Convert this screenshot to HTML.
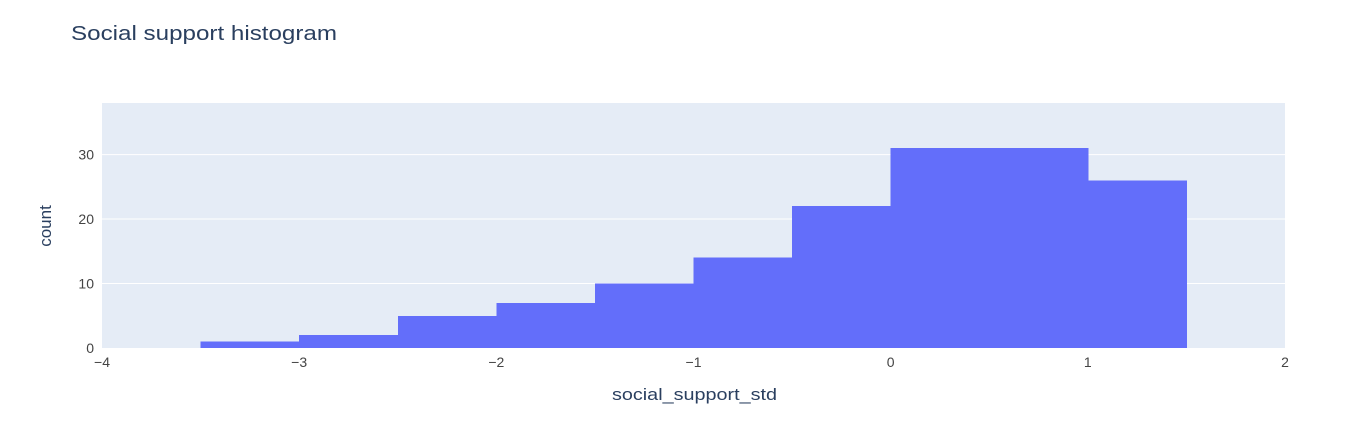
<!DOCTYPE html>
<html><head><meta charset="utf-8"><style>
body{margin:0;background:#fff;font-family:"Liberation Sans",Arial,sans-serif}
svg text{font-family:"Liberation Sans",Arial,sans-serif}
</style></head><body>
<svg id="chart" width="1345" height="422">
<rect width="1345" height="422" fill="#fff"/>
<text x="71" y="40" font-size="20" fill="#2a3f5f" textLength="266" lengthAdjust="spacingAndGlyphs">Social support histogram</text>
<rect x="102" y="103" width="1183" height="245" fill="#e5ecf6"/>
<g id="grid"></g><g id="bars" shape-rendering="crispEdges"></g><g id="ticks"></g>
<text x="612" y="400" font-size="17" fill="#2a3f5f" textLength="165" lengthAdjust="spacingAndGlyphs">social_support_std</text>
<text transform="translate(51,226) rotate(-90)" font-size="17" fill="#2a3f5f" text-anchor="middle">count</text>
</svg>
<script>
const binStarts=[-3.5,-3,-2.5,-2,-1.5,-1,-0.5,0,0.5,1];
const binWidth=0.5;
const counts=[1,2,5,7,10,14,22,31,31,26];
const xTicks=[-4,-3,-2,-1,0,1,2];
const yTicks=[0,10,20,30];
const xMin=-4,xMax=2,yMin=0,yMax=38;
const L=102,R=1285,T=103,B=348;
const sx=v=>L+(v-xMin)/(xMax-xMin)*(R-L);
const sy=v=>B-(v-yMin)/(yMax-yMin)*(B-T);
const NS="http://www.w3.org/2000/svg";
const grid=document.getElementById('grid'),bars=document.getElementById('bars'),ticks=document.getElementById('ticks');
yTicks.forEach(t=>{
 if(t>0){const l=document.createElementNS(NS,'line');
 l.setAttribute('x1',L);l.setAttribute('x2',R);l.setAttribute('y1',sy(t));l.setAttribute('y2',sy(t));
 l.setAttribute('stroke','#fff');l.setAttribute('stroke-width','1');
 
 
 grid.appendChild(l);}
 const tx=document.createElementNS(NS,'text');
 tx.setAttribute('x',L-8);tx.setAttribute('y',sy(t)+5);tx.setAttribute('text-anchor','end');
 tx.setAttribute('font-size','14');tx.setAttribute('fill','#444');tx.textContent=t;
 
 
 ticks.appendChild(tx);
});
xTicks.forEach(t=>{
 const tx=document.createElementNS(NS,'text');
 tx.setAttribute('x',sx(t));tx.setAttribute('y',B+19);tx.setAttribute('text-anchor','middle');
 tx.setAttribute('font-size','14');tx.setAttribute('fill','#444');tx.textContent=t<0?'\u2212'+(-t):t;
 
 
 ticks.appendChild(tx);
});
binStarts.forEach((s,i)=>{
 const r=document.createElementNS(NS,'rect');
 const x0=sx(s),x1=sx(s+binWidth);
 r.setAttribute('x',x0);r.setAttribute('width',x1-x0+0.5);
 r.setAttribute('y',sy(counts[i]));r.setAttribute('height',sy(0)-sy(counts[i]));
 r.setAttribute('fill','#636efa');
 
 
 bars.appendChild(r);
});
</script>
</body></html>
